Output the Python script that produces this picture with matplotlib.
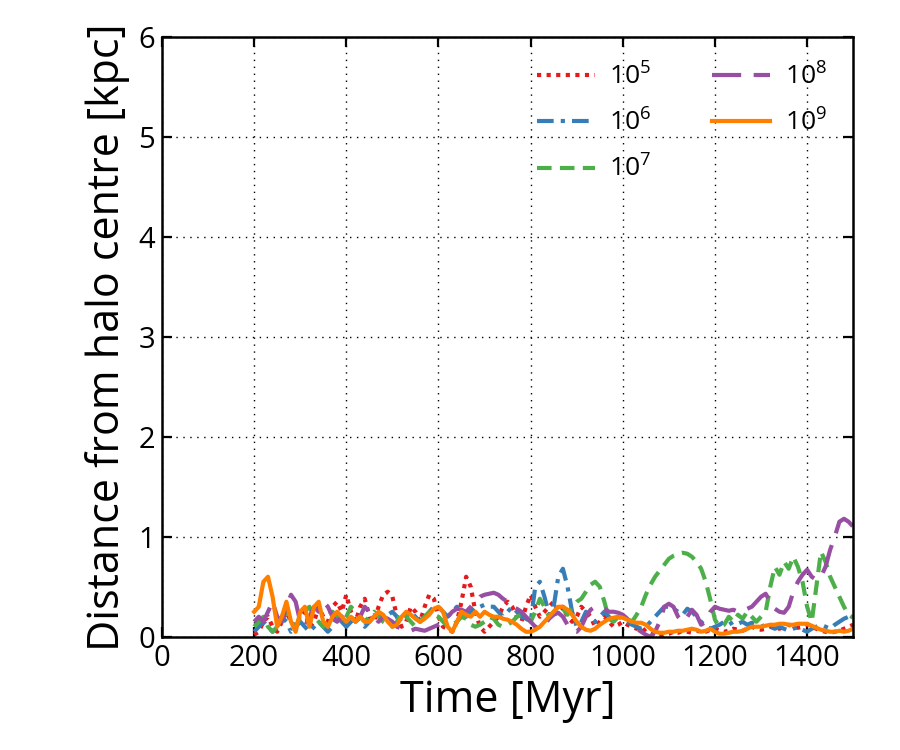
import numpy as np
import matplotlib
matplotlib.use("Agg")
import matplotlib.pyplot as plt

plt.rcParams['font.family'] = ['Open Sans', 'DejaVu Sans']
plt.rcParams['mathtext.fontset'] = 'custom'
plt.rcParams['mathtext.rm'] = 'Open Sans'
plt.rcParams['mathtext.it'] = 'Open Sans:italic'

# time axis, Myr (10 Myr sampling)
time_myr = np.arange(200, 1501, 10)

# distance from halo centre [kpc], one row of values per 100 Myr
dist_1e5 = [
    0.02, 0.05, 0.15, 0.2, 0.1, 0.05, 0.15, 0.25, 0.15, 0.1,
    0.2, 0.25, 0.1, 0.15, 0.3, 0.2, 0.15, 0.3, 0.35, 0.25,
    0.42, 0.25, 0.15, 0.3, 0.38, 0.2, 0.15, 0.3, 0.42, 0.45,
    0.4, 0.2, 0.1, 0.15, 0.3, 0.25, 0.15, 0.3, 0.42, 0.38,
    0.2, 0.1, 0.08, 0.05, 0.15, 0.35, 0.6, 0.5, 0.25, 0.1,
    0.05, 0.1, 0.15, 0.2, 0.3, 0.35, 0.3, 0.2, 0.15, 0.3,
    0.42, 0.3, 0.2, 0.25, 0.3, 0.35, 0.25, 0.3, 0.2, 0.15,
    0.2, 0.3, 0.25, 0.2, 0.1, 0.15, 0.2, 0.15, 0.1, 0.12,
    0.15, 0.12, 0.1, 0.08, 0.1, 0.05, 0.03, 0.02, 0.0, 0.02,
    0.03, 0.05, 0.04, 0.06, 0.05, 0.04, 0.06, 0.05, 0.05, 0.07,
    0.08, 0.06, 0.05, 0.06, 0.08, 0.07, 0.06, 0.08, 0.1, 0.08,
    0.07, 0.08, 0.1, 0.09, 0.08, 0.1, 0.12, 0.1, 0.09, 0.1,
    0.12, 0.1, 0.08, 0.06, 0.05, 0.04, 0.05, 0.06, 0.08, 0.1,
    0.12,
]
dist_1e6 = [
    0.05, 0.1, 0.15, 0.1, 0.05, 0.1, 0.2, 0.15, 0.05, 0.1,
    0.15, 0.1, 0.05, 0.1, 0.15, 0.1, 0.05, 0.1, 0.2, 0.15,
    0.1, 0.15, 0.2, 0.15, 0.1, 0.15, 0.2, 0.25, 0.2, 0.22,
    0.25, 0.2, 0.15, 0.2, 0.25, 0.2, 0.15, 0.2, 0.25, 0.3,
    0.3, 0.25, 0.2, 0.25, 0.3, 0.25, 0.2, 0.25, 0.3, 0.3,
    0.32, 0.3, 0.3, 0.25, 0.2, 0.25, 0.3, 0.25, 0.2, 0.18,
    0.15, 0.5, 0.55, 0.4, 0.22, 0.3, 0.6, 0.68, 0.5, 0.25,
    0.1, 0.15, 0.25, 0.2, 0.15, 0.2, 0.25, 0.2, 0.15, 0.2,
    0.18, 0.15, 0.12, 0.1, 0.08, 0.1, 0.15, 0.2, 0.25, 0.3,
    0.3, 0.28, 0.25, 0.22, 0.28, 0.25, 0.2, 0.15, 0.1, 0.08,
    0.1, 0.12, 0.15, 0.12, 0.15, 0.13, 0.15, 0.12, 0.14, 0.12,
    0.1, 0.12, 0.1, 0.08, 0.1, 0.08, 0.06, 0.08, 0.1, 0.07,
    0.05, 0.08, 0.1, 0.12, 0.1, 0.08, 0.12, 0.15, 0.18, 0.2,
    0.22,
]
dist_1e7 = [
    0.1, 0.15, 0.2, 0.1, 0.05, 0.1, 0.2, 0.25, 0.15, 0.1,
    0.2, 0.25, 0.3, 0.2, 0.15, 0.1, 0.2, 0.25, 0.2, 0.15,
    0.2, 0.3, 0.25, 0.2, 0.15, 0.2, 0.25, 0.2, 0.15, 0.12,
    0.1, 0.15, 0.25, 0.2, 0.15, 0.1, 0.15, 0.2, 0.25, 0.22,
    0.2, 0.15, 0.1, 0.12, 0.15, 0.2, 0.18, 0.12, 0.1, 0.12,
    0.15, 0.2, 0.18, 0.12, 0.1, 0.12, 0.15, 0.2, 0.22, 0.2,
    0.15, 0.25, 0.38, 0.3, 0.2, 0.25, 0.3, 0.28, 0.22, 0.3,
    0.35, 0.38, 0.45, 0.52, 0.55, 0.5, 0.35, 0.18, 0.15, 0.2,
    0.2, 0.18, 0.15, 0.22, 0.3, 0.42, 0.52, 0.6, 0.66, 0.72,
    0.78, 0.81, 0.83, 0.84, 0.83, 0.8, 0.75, 0.68, 0.55, 0.37,
    0.17, 0.1, 0.12, 0.2, 0.15, 0.22, 0.18, 0.25, 0.2, 0.15,
    0.2, 0.25, 0.5, 0.7, 0.62, 0.75, 0.68, 0.8, 0.7, 0.55,
    0.3, 0.15, 0.5, 0.85, 0.75, 0.6, 0.5, 0.4, 0.3, 0.22,
    0.19,
]
dist_1e8 = [
    0.15, 0.2, 0.15, 0.25, 0.35, 0.2, 0.15, 0.3, 0.42, 0.35,
    0.15, 0.1, 0.2, 0.3, 0.25, 0.35, 0.3, 0.2, 0.15, 0.2,
    0.25, 0.2, 0.15, 0.2, 0.3, 0.25, 0.2, 0.15, 0.2, 0.18,
    0.15, 0.1, 0.08, 0.07, 0.06, 0.08, 0.07, 0.06, 0.08, 0.1,
    0.12, 0.15, 0.2, 0.25, 0.28, 0.27, 0.25, 0.3, 0.35, 0.4,
    0.42, 0.43, 0.44, 0.42, 0.38, 0.35, 0.3, 0.28, 0.25, 0.2,
    0.15, 0.1, 0.09, 0.12, 0.18, 0.22, 0.24, 0.2, 0.12, 0.06,
    0.05, 0.1, 0.2, 0.27, 0.3, 0.3, 0.28, 0.25, 0.25, 0.24,
    0.22, 0.18, 0.12, 0.08, 0.05, 0.02, 0.0, 0.05, 0.15, 0.3,
    0.33, 0.3, 0.2, 0.15, 0.2, 0.27, 0.22, 0.12, 0.15, 0.25,
    0.3, 0.28, 0.27, 0.26, 0.27, 0.25, 0.26, 0.28, 0.3, 0.35,
    0.4, 0.43, 0.35, 0.28, 0.25, 0.24, 0.3, 0.45, 0.55, 0.62,
    0.67, 0.6, 0.57, 0.6, 0.7, 0.87, 1.0, 1.15, 1.18, 1.15,
    1.1,
]
dist_1e9 = [
    0.25, 0.3, 0.55, 0.6, 0.4, 0.1, 0.2, 0.35, 0.15, 0.05,
    0.25, 0.3, 0.1, 0.3, 0.35, 0.15, 0.1, 0.2, 0.25, 0.2,
    0.15, 0.2, 0.15, 0.2, 0.15, 0.15, 0.2, 0.25, 0.22, 0.15,
    0.1, 0.12, 0.2, 0.25, 0.22, 0.18, 0.15, 0.18, 0.22, 0.28,
    0.3, 0.25, 0.1, 0.05, 0.15, 0.25, 0.22, 0.2, 0.25, 0.2,
    0.25, 0.22, 0.2, 0.2, 0.18, 0.17, 0.15, 0.12, 0.08, 0.05,
    0.05, 0.07, 0.1, 0.15, 0.2, 0.25, 0.3, 0.3, 0.27, 0.22,
    0.15, 0.1, 0.07, 0.06, 0.08, 0.12, 0.15, 0.18, 0.19, 0.2,
    0.19, 0.17, 0.15, 0.14, 0.14, 0.12, 0.08, 0.05, 0.04, 0.04,
    0.05, 0.05, 0.06, 0.06, 0.07, 0.08, 0.07, 0.05, 0.06, 0.08,
    0.05, 0.03, 0.03, 0.04, 0.05, 0.05, 0.06, 0.08, 0.1, 0.1,
    0.1, 0.11, 0.12, 0.12, 0.13, 0.13, 0.12, 0.12, 0.13, 0.13,
    0.13, 0.11, 0.09, 0.07, 0.06, 0.05, 0.05, 0.06, 0.05, 0.06,
    0.08,
]

labels = [r'$\mathregular{10^5}$', r'$\mathregular{10^6}$', r'$\mathregular{10^7}$',
          r'$\mathregular{10^8}$', r'$\mathregular{10^9}$']
colors = ['#e41a1c', '#377eb8', '#4daf4a', '#984ea3', '#ff7f00']
styles = [(0, (1, 1.3)), (0, (4, 1.7, 1, 1.7)), (0, (3.5, 2)), (0, (7, 3)), '-']

fig = plt.figure(figsize=(9, 7.5), dpi=100)
ax = fig.add_axes([0.18, 0.151, 0.768, 0.8])

series = [dist_1e5, dist_1e6, dist_1e7, dist_1e8, dist_1e9]
for y, lab, c, ls in zip(series, labels, colors, styles):
    ax.plot(time_myr, y, color=c, linestyle=ls, lw=3.0, label=lab)

ax.set_xlim(0, 1500)
ax.set_ylim(0, 6)
ax.set_xticks(np.arange(0, 1401, 200))
ax.set_yticks(np.arange(0, 7, 1))
ax.grid(True, color='black', linestyle=(0, (1, 4)), linewidth=1.0)
ax.tick_params(direction='in', length=7.5, width=1.6, top=True, right=True,
               labelsize=21, pad=5)
for s in ax.spines.values():
    s.set_linewidth(1.8)

ax.set_xlabel('Time [Myr]', fontsize=31, labelpad=4)
ax.set_ylabel('Distance from halo centre [kpc]', fontsize=31, labelpad=6)

ax.legend(loc='upper right', ncol=2, frameon=False, fontsize=19,
          handlelength=2.2, handletextpad=0.55, columnspacing=2.3,
          labelspacing=0.72, borderaxespad=0.6)

fig.savefig('out.png', dpi=100)
